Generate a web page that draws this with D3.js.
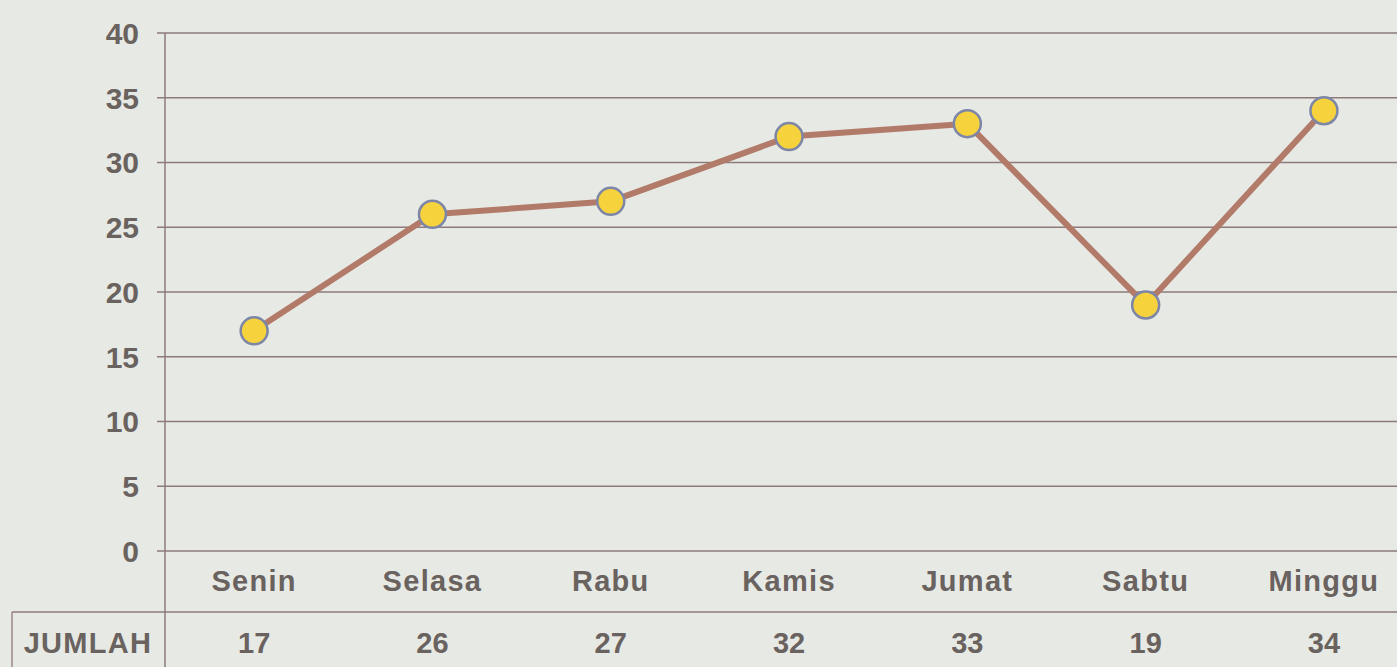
<!DOCTYPE html>
<html>
<head>
<meta charset="utf-8">
<script src="https://cdn.jsdelivr.net/npm/d3@7"></script>
<style>
  body { margin: 0; background: #e7e9e4; }
  svg { display: block; }
  text { font-family: "Liberation Sans", Arial, sans-serif; font-weight: bold; fill: #69625f; }
</style>
</head>
<body>
<svg id="chart" width="1397" height="667"></svg>
<script>
var days = ["Senin", "Selasa", "Rabu", "Kamis", "Jumat", "Sabtu", "Minggu"];
var jumlah = [17, 26, 27, 32, 33, 19, 34];
var yTicks = [0, 5, 10, 15, 20, 25, 30, 35, 40];
var rowLabel = "JUMLAH";

var svg = d3.select("svg#chart");
var plotLeft = 165, plotTop = 33, plotBottom = 551;

var x = d3.scaleBand()
            .domain(days)
            .range([plotLeft, plotLeft + 7 * 178.3]);

var y = d3.scaleLinear()
            .domain([0, 40])
            .range([plotBottom, plotTop]);

var gridColor = "#8d7b7b";
var cx = (d, i) => x(days[i]) + x.bandwidth() / 2;

// gridlines + ticks
svg.selectAll("line.grid")
    .data(yTicks)
    .enter()
    .append("line")
    .attr("x1", plotLeft - 8)
    .attr("x2", 1397)
    .attr("y1", d => y(d))
    .attr("y2", d => y(d))
    .attr("stroke", gridColor)
    .attr("stroke-width", 1.3);

svg.selectAll("text.ytick")
    .data(yTicks)
    .enter()
    .append("text")
    .attr("x", 139)
    .attr("y", d => y(d))
    .attr("dy", "0.36em")
    .attr("text-anchor", "end")
    .attr("font-size", 30)
    .text(d => d);

// y axis line, continues down through the table
svg.append("line")
    .attr("x1", plotLeft).attr("x2", plotLeft)
    .attr("y1", plotTop).attr("y2", 667)
    .attr("stroke", gridColor)
    .attr("stroke-width", 1.5);

// category labels
svg.selectAll("text.cat")
    .data(days)
    .enter()
    .append("text")
    .attr("x", d => x(d) + x.bandwidth() / 2)
    .attr("y", 591)
    .attr("text-anchor", "middle")
    .attr("font-size", 29)
    .attr("letter-spacing", 1.3)
    .text(d => d);

// data table
svg.append("line")
    .attr("x1", 12).attr("x2", 1397)
    .attr("y1", 612).attr("y2", 612)
    .attr("stroke", gridColor)
    .attr("stroke-width", 1.3);
svg.append("line")
    .attr("x1", 12).attr("x2", 12)
    .attr("y1", 612).attr("y2", 667)
    .attr("stroke", gridColor)
    .attr("stroke-width", 1.3);
svg.append("text")
    .attr("x", 88)
    .attr("y", 653)
    .attr("text-anchor", "middle")
    .attr("font-size", 29)
    .attr("letter-spacing", 1.3)
    .text(rowLabel);
svg.selectAll("text.val")
    .data(jumlah)
    .enter()
    .append("text")
    .attr("x", cx)
    .attr("y", 653)
    .attr("text-anchor", "middle")
    .attr("font-size", 29)
    .text(d => d);

// series line
var line = d3.line()
                .x(cx)
                .y(d => y(d));

svg.append("path")
    .datum(jumlah)
    .attr("d", line)
    .attr("fill", "none")
    .attr("stroke", "#b27b69")
    .attr("stroke-width", 6)
    .attr("stroke-linejoin", "round");

svg.selectAll("circle")
    .data(jumlah)
    .enter()
    .append("circle")
    .attr("r", 13.5)
    .attr("cx", cx)
    .attr("cy", d => y(d))
    .attr("fill", "#f6d33c")
    .attr("stroke", "#7d86a6")
    .attr("stroke-width", 2.5);
</script>
</body>
</html>
